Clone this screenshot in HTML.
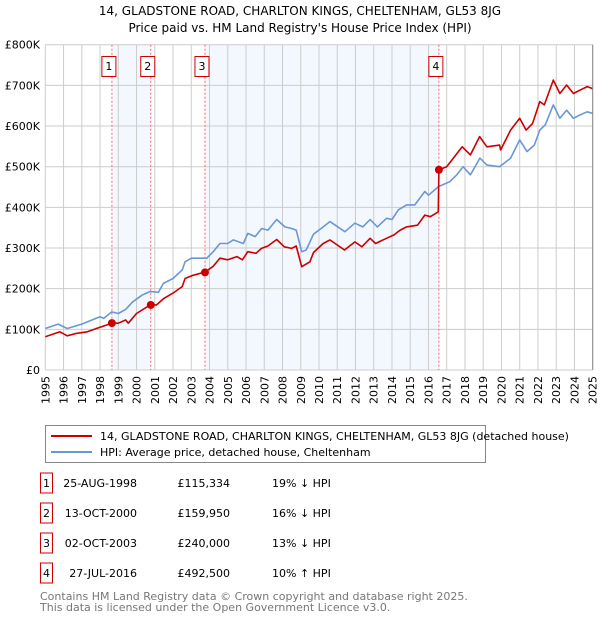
<!DOCTYPE html>
<html><head><meta charset="utf-8"><style>
body{margin:0;background:#fff;font-family:"DejaVu Sans","Liberation Sans",sans-serif;}
svg text{font-family:"DejaVu Sans","Liberation Sans",sans-serif;}
</style></head><body>
<svg id="chart" width="600" height="620" xmlns="http://www.w3.org/2000/svg">
<text x="300" y="15" font-size="12" text-anchor="middle" fill="#000">14, GLADSTONE ROAD, CHARLTON KINGS, CHELTENHAM, GL53 8JG</text>
<text x="300" y="32" font-size="12" text-anchor="middle" fill="#000">Price paid vs. HM Land Registry's House Price Index (HPI)</text>
<g id="plot"></g>
<g>
<rect x="45.5" y="425.5" width="440" height="37" fill="#fff" stroke="#888"/>
<line x1="51" y1="436" x2="92" y2="436" stroke="#cc0000" stroke-width="2"/>
<text x="100" y="440" font-size="11">14, GLADSTONE ROAD, CHARLTON KINGS, CHELTENHAM, GL53 8JG (detached house)</text>
<line x1="51" y1="452" x2="92" y2="452" stroke="#6a98d4" stroke-width="2"/>
<text x="100" y="456" font-size="11">HPI: Average price, detached house, Cheltenham</text>
</g>
<g id="table"></g>
<text x="40" y="600" font-size="11" fill="#777">Contains HM Land Registry data © Crown copyright and database right 2025.</text>
<text x="40" y="611" font-size="11" fill="#777">This data is licensed under the Open Government Licence v3.0.</text>
</svg>
<script>
const hpiYears=[1995,1995.7,1996.2,1997,1998,1998.2,1998.64,1999,1999.4,1999.8,2000.3,2000.74,2001.2,2001.47,2002,2002.5,2002.66,2003,2003.85,2004.2,2004.57,2005,2005.3,2005.85,2006.1,2006.5,2006.86,2007.2,2007.68,2008.13,2008.5,2008.75,2009.05,2009.3,2009.7,2010.23,2010.6,2011.42,2011.97,2012.4,2012.8,2013.2,2013.7,2014,2014.35,2014.8,2015.25,2015.8,2016,2016.55,2017.17,2017.55,2017.9,2018.3,2018.82,2019.2,2019.9,2020.5,2021,2021.4,2021.8,2022.1,2022.4,2022.84,2023.2,2023.57,2023.94,2024.3,2024.7,2025];
const hpiValues=[102,113,102,113,131,127,143,139,149,168,184,193,191,213,225,246,266,275,275,291,311,311,320,311,336,328,348,344,370,352,348,344,291,295,334,352,365,340,361,352,370,352,373,370,394,406,406,439,430,451,463,480,500,480,521,504,500,521,566,537,553,590,603,652,619,639,619,627,635,631];
const redYears=[1995,1995.8,1996.2,1996.7,1997.3,1998,1998.65,1999,1999.4,1999.55,2000,2000.75,2001.1,2001.5,2002,2002.5,2002.66,2003.1,2003.75,2004.2,2004.57,2005,2005.5,2005.8,2006.1,2006.55,2006.85,2007.2,2007.68,2008.1,2008.5,2008.75,2009.05,2009.5,2009.7,2010.23,2010.6,2011.4,2011.97,2012.35,2012.8,2013.1,2013.7,2014.1,2014.45,2014.8,2015.4,2015.8,2016.1,2016.54,2016.57,2017,2017.5,2017.85,2018.3,2018.8,2019.2,2019.9,2019.95,2020.5,2021,2021.35,2021.7,2022.1,2022.35,2022.84,2023.2,2023.57,2023.94,2024.3,2024.7,2025];
const redValues=[82,94,84,90,94,105,115,115,123,115,139,160,160,176,189,205,225,233,241,255,275,271,279,271,291,287,299,305,321,303,299,305,254,266,289,311,320,295,315,303,324,311,324,332,344,352,356,381,377,389,492.5,500,529,549,529,574,549,553,541,590,619,590,606,660,652,713,680,701,680,688,697,692];
const saleLabels=["1","2","3","4"];
const saleYears=[1998.65,2000.78,2003.75,2016.57];
const salePrices=[115.334,159.95,240,492.5];
const saleDates=["25-AUG-1998","13-OCT-2000","02-OCT-2003","27-JUL-2016"];
const salePriceText=["£115,334","£159,950","£240,000","£492,500"];
const saleHpiText=["19% ↓ HPI","16% ↓ HPI","13% ↓ HPI","10% ↑ HPI"];
const yTicks=[0,100,200,300,400,500,600,700,800];
const yTickLabels=["£0","£100K","£200K","£300K","£400K","£500K","£600K","£700K","£800K"];
const xTicks=[1995,1996,1997,1998,1999,2000,2001,2002,2003,2004,2005,2006,2007,2008,2009,2010,2011,2012,2013,2014,2015,2016,2017,2018,2019,2020,2021,2022,2023,2024,2025];

const NS="http://www.w3.org/2000/svg";
const X0=45.3,X1=592.7,Y0=370,Y1=44.7;
const xs=y=>X0+(y-1995)/30*(X1-X0);
const ys=v=>Y0-v/800*(Y0-Y1);
const plot=document.getElementById('plot');
function mk(tag,attrs,parent){const e=document.createElementNS(NS,tag);for(const k in attrs)e.setAttribute(k,attrs[k]);(parent||plot).appendChild(e);return e;}
[[0,1],[2,3]].forEach(([a,b])=>{
 const r=mk('rect',{x:xs(saleYears[a]),y:Y1,width:xs(saleYears[b])-xs(saleYears[a]),height:Y0-Y1,fill:'#eef3fd',opacity:0.7});
 
 
});
xTicks.forEach((t,i)=>{
 const l=mk('line',{x1:xs(t),x2:xs(t),y1:Y1,y2:Y0,stroke:'#cccccc','stroke-width':1});
 
 
 const tx=mk('text',{x:0,y:0,'font-size':11,'text-anchor':'end',transform:`translate(${xs(t)+4},${Y0+6}) rotate(-90)`});
 tx.textContent=t;
 
 
});
yTicks.forEach((t,i)=>{
 const l=mk('line',{x1:X0,x2:X1,y1:ys(t),y2:ys(t),stroke:'#cccccc','stroke-width':1});
 
 
 const tx=mk('text',{x:40,y:ys(t)+4,'font-size':11,'text-anchor':'end'});
 tx.textContent=yTickLabels[i];
 
 
});
saleYears.forEach((s,i)=>{
 const l=mk('line',{x1:xs(s),x2:xs(s),y1:Y1,y2:Y0,stroke:'#ff6666','stroke-width':1,'stroke-dasharray':'2,2'});
 
 
 const bx=xs(s)-3;
 const r=mk('rect',{x:bx-7,y:56.5,width:14,height:20,fill:'#fff',stroke:'#cc0000'});
 
 
 const t=mk('text',{x:bx,y:70,'font-size':11,'text-anchor':'middle'});
 t.textContent=saleLabels[i];
 
 
});
function path(yr,vals,color,name){
 const d=yr.map((y,i)=>(i?'L':'M')+xs(y).toFixed(1)+','+ys(vals[i]).toFixed(1)).join('');
 const p=mk('path',{d:d,fill:'none',stroke:color,'stroke-width':1.6,'stroke-linejoin':'round'});
 
 
}
path(hpiYears,hpiValues,'#6a98d4','hpi-line');
path(redYears,redValues,'#cc0000','price-line');
saleYears.forEach((s,i)=>{
 const c=mk('circle',{cx:xs(s),cy:ys(salePrices[i]),r:4,fill:'#cc0000'});
 
 
});
const ax=mk('line',{x1:X1,x2:X1,y1:Y1,y2:Y0,stroke:'#888'});


const tb=document.getElementById('table');
saleLabels.forEach((lab,i)=>{
 const cy=483+i*30;
 const r=mk('rect',{x:40.5,y:cy-10,width:12,height:20,fill:'#fff',stroke:'#cc0000'},tb);
 
 
 const cells=[[46.5,lab,'middle'],[137,saleDates[i],'end'],[230,salePriceText[i],'end'],[272,saleHpiText[i],'start']];
 cells.forEach(([x,txt,anc])=>{
  const t=mk('text',{x:x,y:cy+4,'font-size':11,'text-anchor':anc},tb);
  t.textContent=txt;
  
  
 });
});
</script>
</body></html>
